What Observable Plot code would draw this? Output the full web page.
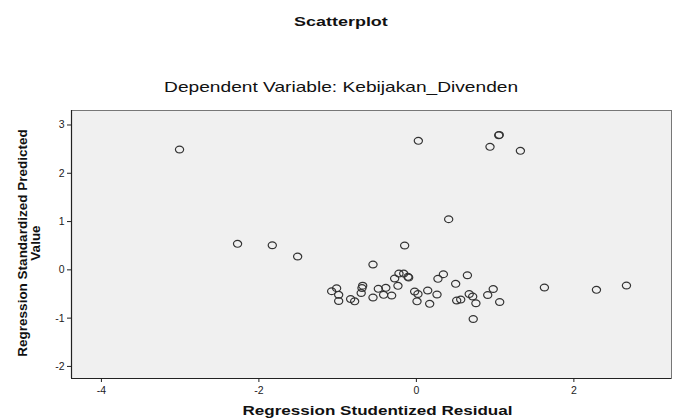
<!DOCTYPE html>
<html><head><meta charset="utf-8">
<script src="https://cdn.jsdelivr.net/npm/d3@7"></script>
<script src="https://cdn.jsdelivr.net/npm/@observablehq/plot@0.6"></script>
<style>
body{margin:0;background:#fff;font-family:"Liberation Sans",Arial,sans-serif;}
#wrap{position:relative;width:673px;height:419px;overflow:hidden;}
.hdr{position:absolute;left:0;width:682px;text-align:center;color:#111;}
.hdr span{display:inline-block;transform-origin:50% 50%;}
#title{top:14px;font-weight:bold;font-size:13px;line-height:16px;}
#title span{transform:scaleX(1.38);}
#subtitle{top:79px;font-size:14.5px;line-height:17px;}
#subtitle span{transform:scaleX(1.32);}
#chart{position:absolute;left:0;top:100px;}
</style></head>
<body>
<div id="wrap">
<div id="title" class="hdr"><span>Scatterplot</span></div>
<div id="subtitle" class="hdr"><span>Dependent Variable: Kebijakan_Divenden</span></div>
<div id="chart"></div>
</div>
<script>
const residual = [-3.008,-2.271,-1.830,-1.508,-0.551,-1.076,-1.013,-0.987,-0.987,-0.835,-0.784,-0.701,-0.691,-0.682,-0.551,-0.483,-0.388,-0.416,-0.314,-0.276,-0.234,-0.221,-0.161,-0.107,-0.098,-0.022,0.008,0.020,0.144,0.169,0.262,0.274,0.343,0.499,0.648,0.512,0.563,0.671,0.715,0.756,0.722,0.906,0.976,1.058,1.626,2.287,2.668,-0.149,0.410,0.025,1.046,1.052,0.935,1.321];
const predicted = [2.491,0.538,0.509,0.275,0.110,-0.443,-0.381,-0.518,-0.646,-0.605,-0.652,-0.480,-0.377,-0.329,-0.573,-0.393,-0.373,-0.518,-0.532,-0.180,-0.331,-0.077,-0.077,-0.145,-0.159,-0.449,-0.652,-0.501,-0.429,-0.704,-0.511,-0.186,-0.091,-0.290,-0.112,-0.636,-0.615,-0.501,-0.553,-0.692,-1.019,-0.522,-0.398,-0.667,-0.366,-0.414,-0.325,0.503,1.048,2.671,2.787,2.795,2.547,2.464];
const xTicks = [-4,-2,0,2];
const yTicks = [-2,-1,0,1,2,3];
const xLabel = "Regression Studentized Residual";
const yLabel = "Regression Standardized Predicted\nValue";

const pts = residual.map((r,i)=>({r, p: predicted[i]}));

// open marker, slightly wider than tall like the reference
const ellipse = {draw(ctx){
  const rx = 4.1, ry = 3.4, k = 0.5523;
  ctx.moveTo(rx, 0);
  ctx.bezierCurveTo(rx, ry*k, rx*k, ry, 0, ry);
  ctx.bezierCurveTo(-rx*k, ry, -rx, ry*k, -rx, 0);
  ctx.bezierCurveTo(-rx, -ry*k, -rx*k, -ry, 0, -ry);
  ctx.bezierCurveTo(rx*k, -ry, rx, -ry*k, rx, 0);
  ctx.closePath();
}};

const chart = Plot.plot({
  width: 673,
  height: 319,
  marginTop: 10,
  marginBottom: 41,
  marginLeft: 71,
  marginRight: 2,
  style: {fontFamily: "'Liberation Sans', Arial, sans-serif", fontSize: "10px", color: "#222", background: "transparent", overflow: "visible"},
  x: {domain: [-4.38, 3.24], label: null},
  y: {domain: [-2.25, 3.30], label: null},
  marks: [
    Plot.frame({fill: "#f0f0f0", stroke: "#777", strokeWidth: 1}),
    Plot.ruleX([-4.38], {stroke: "#222", strokeWidth: 1.2}),
    Plot.ruleY([-2.25], {stroke: "#222", strokeWidth: 1.2}),
    Plot.axisX({ticks: xTicks, tickFormat: d => String(d), tickSize: 4, tickPadding: 4, stroke: "#222", fill: "#222", fontSize: 10.5, label: null}),
    Plot.axisY({ticks: yTicks, tickFormat: d => String(d), tickSize: 4, tickPadding: 3, stroke: "#222", fill: "#222", fontSize: 10.5, label: null}),
    Plot.dot(pts, {x: "r", y: "p", symbol: ellipse, stroke: "#333", strokeWidth: 1.2, fill: "none"}),
    Plot.text([xLabel], {frameAnchor: "bottom", text: d => d, dy: 32.5, dx: 6, lineAnchor: "middle", fontWeight: "bold", fontSize: 13.5, fill: "#111"}),
    Plot.text([yLabel], {frameAnchor: "left", text: d => d, rotate: -90, dx: -42, dy: -1.5, textAnchor: "middle", lineAnchor: "middle", lineHeight: 0.97, fontWeight: "bold", fontSize: 13.5, fill: "#111"})
  ]
});
// widen the x-axis title horizontally like the reference
d3.select(chart).selectAll("text").filter(function(){ return this.textContent === xLabel; })
  .attr("textLength", 270).attr("lengthAdjust", "spacingAndGlyphs");
document.getElementById("chart").appendChild(chart);
</script>
</body></html>
